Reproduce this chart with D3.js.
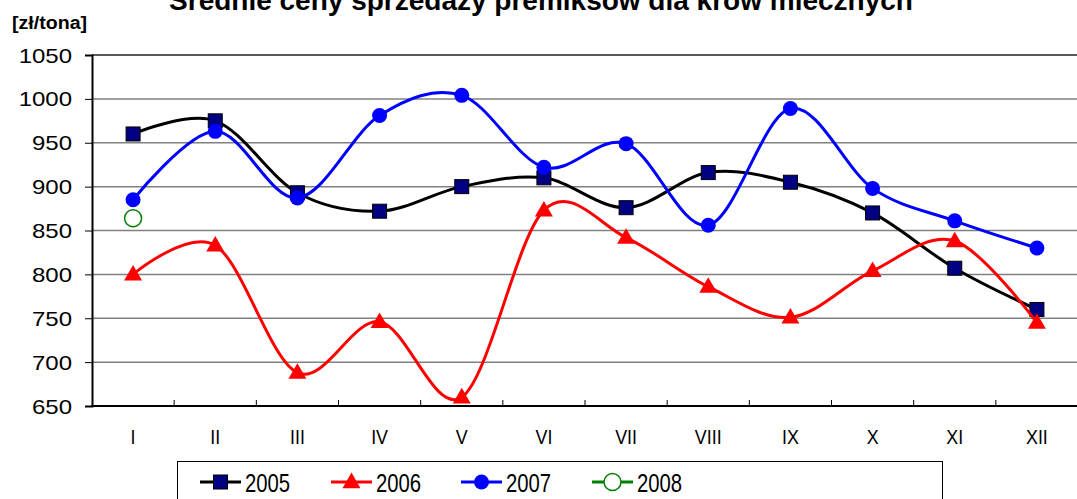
<!DOCTYPE html>
<html>
<head>
<meta charset="utf-8">
<script src="https://cdn.jsdelivr.net/npm/d3@7"></script>
<style>
  body { margin: 0; background: #fff; }
  text { font-family: "Liberation Sans", Arial, sans-serif; }
</style>
</head>
<body>
<div id="chart"></div>
<script>
// months and prices (zł/tona)
const months = ["I", "II", "III", "IV", "V", "VI", "VII", "VIII", "IX", "X", "XI", "XII"];
const s2005 = [960, 975, 893, 872, 900, 910, 876, 916, 905, 870, 807, 760];
const s2006 = [800, 833, 688, 746, 660, 873, 842, 786, 751, 804, 838, 745];
const s2007 = [885, 963, 887, 981, 1004, 922, 949, 856, 989, 898, 861, 830];
const s2008 = [864];
const yTicks = [650, 700, 750, 800, 850, 900, 950, 1000, 1050];

const W = 1077, H = 499;
const margin = { top: 55, left: 92, right: -1, bottom: 93 };

const svg = d3.select("#chart").append("svg")
  .attr("width", W).attr("height", H);

const x = d3.scaleBand().domain(months).range([margin.left, W - margin.right]);
const y = d3.scaleLinear().domain([650, 1050]).range([406, 55]);

// title (cut off at top like the original)
svg.append("text")
  .attr("x", 541).attr("y", 10)
  .attr("text-anchor", "middle")
  .style("font-size", "28px").style("font-weight", "bold")
  .text("Średnie ceny sprzedaży premiksów dla krów mlecznych");

svg.append("text")
  .attr("transform", "translate(12,29) scale(1.12,1)")
  .style("font-size", "17.5px").style("font-weight", "bold")
  .text("[zł/tona]");

// gridlines
svg.append("g").selectAll("line")
  .data(yTicks.slice(1))
  .join("line")
  .attr("x1", margin.left).attr("x2", W)
  .attr("y1", d => y(d)).attr("y2", d => y(d))
  .attr("stroke", d => d === 1050 ? "#222" : "#808080")
  .attr("stroke-width", 1.5);

// y axis
const yAxis = svg.append("g")
  .attr("transform", `translate(${margin.left},0)`)
  .call(d3.axisLeft(y).tickValues(yTicks).tickSize(7).tickPadding(0).tickFormat(d3.format("d")));
yAxis.select(".domain").attr("stroke", "#000").attr("stroke-width", 2);
yAxis.selectAll(".tick line").attr("stroke", "#000").attr("stroke-width", 1);
yAxis.selectAll(".tick text")
  .style("font-size", "20px").style("font-family", "Liberation Sans, Arial, sans-serif")
  .attr("fill", "#000")
  .attr("text-anchor", "end")
  .attr("transform", "translate(-20,0) scale(1.2,1)")
  .attr("x", 0).attr("dy", "0.35em");

// x axis (ticks between categories, pointing inward)
const xAxis = svg.append("g")
  .attr("transform", `translate(0,${y(650)})`);
xAxis.append("line")
  .attr("x1", margin.left - 1).attr("x2", W)
  .attr("stroke", "#000").attr("stroke-width", 2);
xAxis.selectAll(".tk")
  .data(months.slice(1))
  .join("line")
  .attr("x1", d => x(d)).attr("x2", d => x(d))
  .attr("y1", 0).attr("y2", -6)
  .attr("stroke", "#000");
xAxis.selectAll(".lbl")
  .data(months)
  .join("text")
  .attr("transform", d => `translate(${x(d) + x.bandwidth() / 2},38) scale(0.85,1)`)
  .attr("text-anchor", "middle")
  .style("font-size", "21px")
  .text(d => d);

const line = d3.line()
  .x((d, i) => x(months[i]) + x.bandwidth() / 2)
  .y(d => y(d))
  .curve(d3.curveCardinal.tension(0));

const cx = i => x(months[i]) + x.bandwidth() / 2;
const tri = d3.symbol().type(d3.symbolTriangle).size(140);

function drawSeries(data, color, marker) {
  svg.append("path")
    .datum(data)
    .attr("fill", "none")
    .attr("stroke", color)
    .attr("stroke-width", 3)
    .attr("d", line);
  const g = svg.append("g");
  data.forEach((v, i) => marker(g, cx(i), y(v)));
}

function square(g, px, py) {
  g.append("rect").attr("x", px - 7).attr("y", py - 7)
    .attr("width", 14).attr("height", 14)
    .attr("fill", "#000080").attr("stroke", "#000").attr("stroke-width", 1);
}
function triangle(g, px, py) {
  g.append("path").attr("d", tri())
    .attr("transform", `translate(${px},${py + 1})`)
    .attr("fill", "#ff0000");
}
function dot(g, px, py) {
  g.append("circle").attr("cx", px).attr("cy", py).attr("r", 7.5).attr("fill", "#0000ff");
}
function hollow(g, px, py) {
  g.append("circle").attr("cx", px).attr("cy", py).attr("r", 8.5)
    .attr("fill", "#fff").attr("stroke", "#008000").attr("stroke-width", 1.5);
}

drawSeries(s2005, "#000", square);
drawSeries(s2006, "#ff0000", triangle);
drawSeries(s2007, "#0000ff", dot);
drawSeries(s2008, "#008000", hollow);

// legend
const legend = svg.append("g");
legend.append("rect")
  .attr("x", 177.5).attr("y", 461.5)
  .attr("width", 765).attr("height", 60)
  .attr("fill", "#fff").attr("stroke", "#000").attr("stroke-width", 1);

const legendItems = [
  { name: "2005", color: "#000", marker: square, x0: 200 },
  { name: "2006", color: "#ff0000", marker: triangle, x0: 331 },
  { name: "2007", color: "#0000ff", marker: dot, x0: 461 },
  { name: "2008", color: "#008000", marker: hollow, x0: 592 }
];
legendItems.forEach(it => {
  const ly = 482;
  legend.append("line")
    .attr("x1", it.x0).attr("x2", it.x0 + 41)
    .attr("y1", ly).attr("y2", ly)
    .attr("stroke", it.color).attr("stroke-width", 3);
  it.marker(legend, it.x0 + 20.5, ly);
  legend.append("text")
    .attr("transform", `translate(${it.x0 + 45},${ly + 9.5}) scale(0.78,1)`)
    .style("font-size", "26px")
    .text(it.name);
});
</script>
</body>
</html>
